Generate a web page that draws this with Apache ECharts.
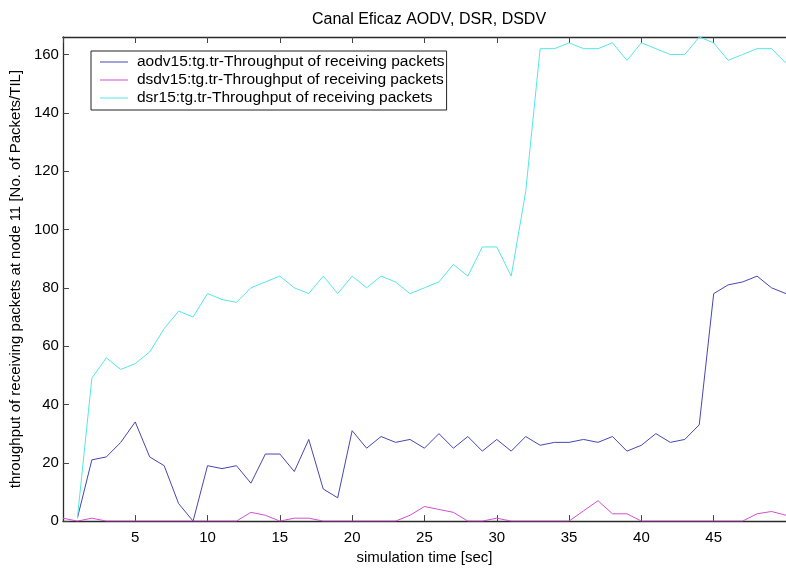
<!DOCTYPE html>
<html>
<head>
<meta charset="utf-8">
<script src="https://cdn.jsdelivr.net/npm/echarts@6/dist/echarts.min.js"></script>
<style>
html,body{margin:0;padding:0;background:#fff;}
#chart{width:786px;height:570px;}
</style>
</head>
<body>
<div id="chart"></div>
<script>
const titleText = 'Canal Eficaz AODV, DSR, DSDV';
const xName = 'simulation time [sec]';
const yName = 'throughput of receiving packets at node 11 [No. of Packets/TIL]';
const seriesNames = [
  'aodv15:tg.tr-Throughput of receiving packets',
  'dsdv15:tg.tr-Throughput of receiving packets',
  'dsr15:tg.tr-Throughput of receiving packets'
];
const timeFrom0 = [0,1,2,3,4,5,6,7,8,9,10,11,12,13,14,15,16,17,18,19,20,21,22,23,24,25,26,27,28,29,30,31,32,33,34,35,36,37,38,39,40,41,42,43,44,45,46,47,48,49,50];
const timeFrom1 = [1,2,3,4,5,6,7,8,9,10,11,12,13,14,15,16,17,18,19,20,21,22,23,24,25,26,27,28,29,30,31,32,33,34,35,36,37,38,39,40,41,42,43,44,45,46,47,48,49,50];
const aodv = [1,21,22,27,34,22,19,6,0,19, 18,19,13,23,23,17,28,11,8,31, 25,29,27,28,25,30,25,29,24,28, 24,29,26,27,27,28,27,29,24,26, 30,27,28,33,78,81,82,84,80,78];
const dsdv = [1,0,1,0,0,0,0,0,0,0,0, 0,0,3,2,0,1,1,0,0,0, 0,0,0,2,5,4,3,0,0,1, 0,0,0,0,0,3.5,7,2.5,2.5,0, 0,0,0,0,0,0,0,2.5,3.3,2];
const dsr = [1,49,56,52,54,58,66,72,70,78, 76,75,80,82,84,80,78,84,78,84, 80,84,82,78,80,82,88,84,94,94, 84,113,162,162,164,162,162,164,158,164, 162,160,160,166,164,158,160,162,162,157];
const colors = ['#4646b4', '#d24fd2', '#55e6e6'];

function pairs(xs, ys){ return xs.map((x,i)=>[x, ys[i]]); }

const font = 'Arial, "Liberation Sans", sans-serif';
const chart = echarts.init(document.getElementById('chart'), null, {renderer:'canvas'});
chart.setOption({
  animation:false,
  backgroundColor:'#fff',
  graphic:[{
    type:'text', x:429, y:20,
    style:{text:titleText, fontSize:16, fontFamily:font, fill:'#000', align:'center', verticalAlign:'middle'}
  }],
  legend:{
    orient:'vertical', left:91, top:51,
    backgroundColor:'#fff', borderColor:'#222', borderWidth:1,
    padding:[2,2,3,9], itemGap:0, itemWidth:28, itemHeight:1,
    icon:'rect',
    textStyle:{fontSize:15.5, fontFamily:font, color:'#000', lineHeight:18, padding:[0,0,0,4]},
    data:seriesNames
  },
  grid:{left:62, width:734.5, top:37, bottom:43, containLabel:false},
  xAxis:[{
    type:'value', min:0, max:50, interval:5, position:'bottom',
    name:xName, nameLocation:'middle', nameGap:26,
    nameTextStyle:{fontSize:15, fontFamily:font, color:'#000'},
    axisLine:{show:true, lineStyle:{color:'#2a2a2a', width:1.3}},
    axisTick:{show:true, inside:true, length:6, lineStyle:{color:'#444'}},
    axisLabel:{fontSize:15, fontFamily:font, color:'#000', margin:9, showMinLabel:false, showMaxLabel:false},
    splitLine:{show:false}
  },{
    type:'value', min:0, max:50, interval:5, position:'top',
    axisLine:{show:true, lineStyle:{color:'#2a2a2a', width:1.3}},
    axisTick:{show:true, inside:true, length:6, lineStyle:{color:'#444'}},
    axisLabel:{show:false}, splitLine:{show:false}
  }],
  yAxis:{
    type:'value', min:0, max:166, interval:20,
    name:yName, nameLocation:'middle', nameGap:30,
    nameTextStyle:{fontSize:15, fontFamily:font, color:'#000'},
    axisLine:{show:true, lineStyle:{color:'#2a2a2a', width:1.3}},
    axisTick:{show:true, inside:true, length:6, lineStyle:{color:'#444'}},
    axisLabel:{fontSize:15, fontFamily:font, color:'#000', margin:4, showMaxLabel:false},
    splitLine:{show:false}
  },
  series:[
    {name:seriesNames[0], type:'line', data:pairs(timeFrom1, aodv), symbol:'none', color:colors[0], lineStyle:{width:1, color:colors[0]}, clip:true},
    {name:seriesNames[1], type:'line', data:pairs(timeFrom0, dsdv), symbol:'none', color:colors[1], lineStyle:{width:1, color:colors[1]}, clip:true},
    {name:seriesNames[2], type:'line', data:pairs(timeFrom1, dsr), symbol:'none', color:colors[2], lineStyle:{width:1, color:colors[2]}, clip:true}
  ]
});
</script>
</body>
</html>
